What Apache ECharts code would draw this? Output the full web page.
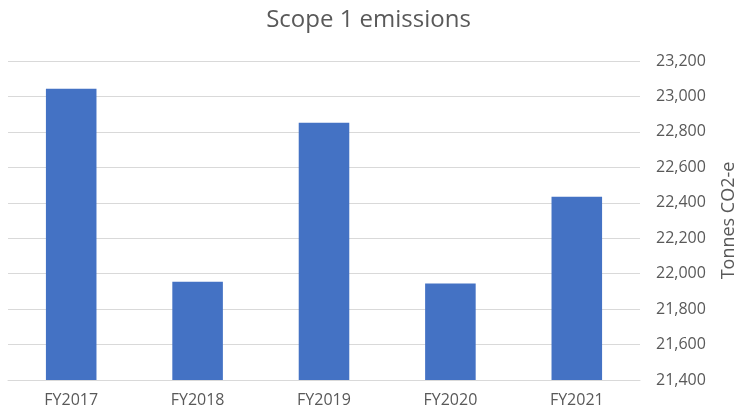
<!DOCTYPE html>
<html><head><meta charset="utf-8">
<script src="https://cdn.jsdelivr.net/npm/echarts@6/dist/echarts.min.js"></script>
<style>html,body{margin:0;padding:0;background:#fff}#c{width:737px;height:414px}</style>
</head><body><div id="c"></div>
<script>
const categories = ["FY2017","FY2018","FY2019","FY2020","FY2021"];
const emissions = [23044, 21955, 22852, 21945, 22434];
const yTicks = {min: 21400, max: 23200, interval: 200};

const chart = echarts.init(document.getElementById('c'));
const fontFam = '"Open Sans", "Liberation Sans", sans-serif';
chart.setOption({
  animation: false,
  title: {
    text: 'Scope 1 emissions', left: 'center', top: 3,
    textStyle: {fontFamily: fontFam, fontSize: 24, fontWeight: 'normal', color: '#595959'}
  },
  grid: {left: 8, right: 97, top: 61, bottom: 34, outerBoundsMode: 'none', containLabel: false},
  xAxis: {
    type: 'category', data: categories,
    axisLine: {show: true, lineStyle: {color: '#d9d9d9'}},
    axisTick: {show: false},
    axisLabel: {fontFamily: fontFam, fontSize: 16, color: '#595959', margin: 12}
  },
  yAxis: {
    type: 'value', position: 'right',
    min: yTicks.min, max: yTicks.max, interval: yTicks.interval,
    name: 'Tonnes CO2-e', nameLocation: 'middle', nameRotate: 90, nameGap: 80,
    nameTextStyle: {fontFamily: fontFam, fontSize: 18, color: '#595959'},
    axisLine: {show: false}, axisTick: {show: false},
    axisLabel: {fontFamily: fontFam, fontSize: 16, color: '#595959', margin: 16,
      formatter: v => v.toLocaleString('en-US')},
    splitLine: {lineStyle: {color: '#d9d9d9', width: 1}}
  },
  series: [{
    type: 'bar', data: emissions, barWidth: '40%',
    itemStyle: {color: '#4472c4'}
  }]
});
</script></body></html>
